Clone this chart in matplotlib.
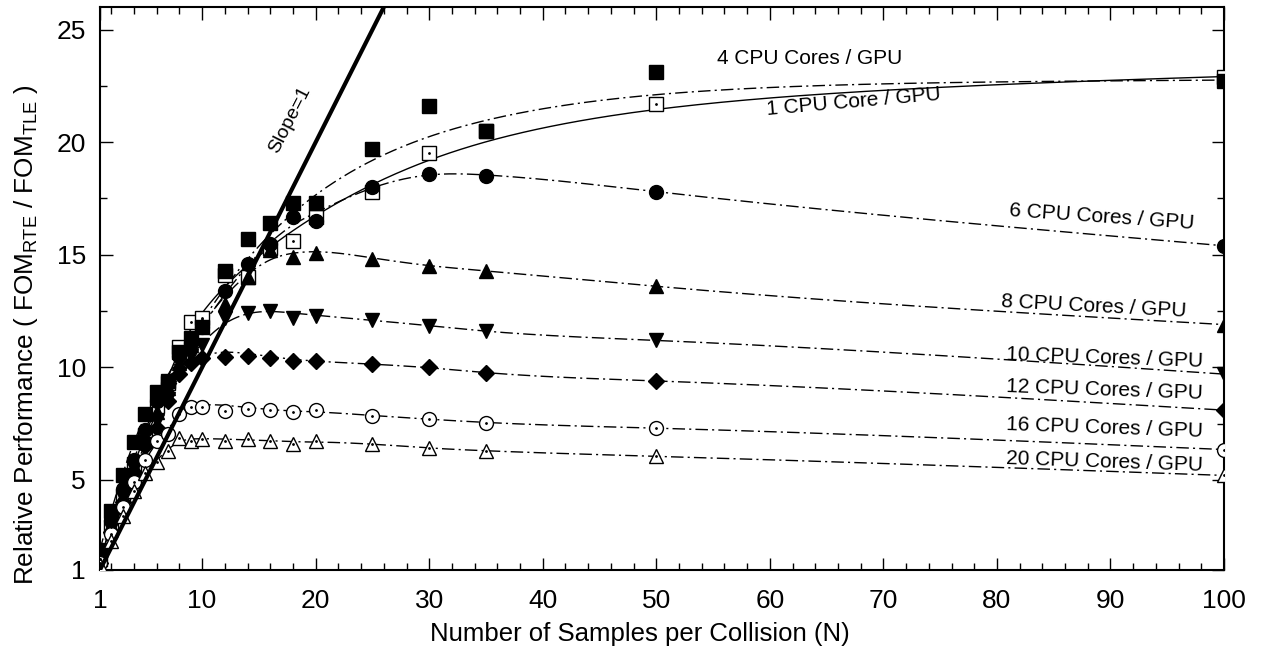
import numpy as np
import matplotlib
matplotlib.use('Agg')
import matplotlib.pyplot as plt

plt.rcParams['font.family'] = ['Liberation Sans', 'DejaVu Sans']

N = [1, 2, 3, 4, 5, 6, 7, 8, 9, 10, 12, 14, 16, 18, 20, 25, 30, 35, 50, 100]

core1 = [1.5, 2.9, 4.3, 5.7, 7.0, 8.3, 9.3, 10.9, 12.0, 12.2, 14.1, 14.0, 15.3, 15.6, 16.7, 17.8, 19.5, 20.5, 21.7, 22.9]
core4 = [1.9, 3.6, 5.2, 6.7, 7.95, 8.9, 9.4, 10.7, 11.3, 11.8, 14.3, 15.7, 16.4, 17.3, 17.3, 19.7, 21.6, 20.5, 23.1, 22.7]
core6 = [1.6, 3.2, 4.6, 5.9, 7.2, 8.5, 9.3, 10.5, 11.1, 11.8, 13.4, 14.6, 15.5, 16.7, 16.5, 18.0, 18.6, 18.5, 17.8, 15.4]
core8 = [1.5, 3.0, 4.3, 5.6, 6.8, 8.0, 9.1, 10.2, 11.0, 11.9, 12.8, 14.0, 15.2, 14.9, 15.1, 14.8, 14.5, 14.3, 13.6, 11.9]
core10 = [1.4, 2.8, 4.2, 5.5, 6.6, 7.6, 8.6, 9.7, 10.5, 11.0, 12.2, 12.4, 12.5, 12.2, 12.3, 12.1, 11.85, 11.6, 11.2, 9.7]
core12 = [1.3, 2.7, 4.0, 5.3, 6.5, 7.3, 8.5, 9.7, 10.2, 10.4, 10.45, 10.5, 10.4, 10.3, 10.3, 10.15, 10.0, 9.75, 9.4, 8.1]
core16 = [1.3, 2.6, 3.8, 4.9, 5.9, 6.75, 7.05, 7.95, 8.25, 8.25, 8.05, 8.15, 8.1, 8.0, 8.1, 7.85, 7.7, 7.55, 7.3, 6.35]
core20 = [1.2, 2.3, 3.4, 4.5, 5.3, 5.8, 6.3, 6.85, 6.75, 6.8, 6.75, 6.8, 6.75, 6.6, 6.75, 6.6, 6.4, 6.3, 6.05, 5.2]

labels = ['1 CPU Core / GPU', '4 CPU Cores / GPU', '6 CPU Cores / GPU', '8 CPU Cores / GPU',
          '10 CPU Cores / GPU', '12 CPU Cores / GPU', '16 CPU Cores / GPU', '20 CPU Cores / GPU']
label_pos = [(67.4, 21.8, 5), (63.5, 23.7, 0), (89.2, 16.7, -4), (88.5, 12.7, -3),
             (89.5, 10.4, -2), (89.5, 9.0, -2), (89.5, 7.3, -2), (89.5, 5.8, -2)]


def smooth_spline(x, y, lam, w=None, n=600):
	# weighted Reinsch smoothing spline (natural cubic)
	x = np.asarray(x, float)
	y = np.asarray(y, float)
	m = len(x)
	W = np.diag(np.ones(m) if w is None else np.asarray(w, float))
	h = np.diff(x)
	Q = np.zeros((m, m - 2))
	R = np.zeros((m - 2, m - 2))
	for j in range(1, m - 1):
		Q[j - 1, j - 1] = 1 / h[j - 1]
		Q[j, j - 1] = -1 / h[j - 1] - 1 / h[j]
		Q[j + 1, j - 1] = 1 / h[j]
		R[j - 1, j - 1] = (h[j - 1] + h[j]) / 3
		if j < m - 2:
			R[j - 1, j] = R[j, j - 1] = h[j] / 6
	K = Q @ np.linalg.solve(R, Q.T)
	g = np.linalg.solve(W + lam * K, W @ y)
	gam = np.zeros(m)
	gam[1:-1] = np.linalg.solve(R, Q.T @ g)
	xs = np.linspace(x[0], x[-1], n)
	i = np.clip(np.searchsorted(x, xs) - 1, 0, m - 2)
	hi = h[i]
	a = (x[i + 1] - xs) / hi
	b = (xs - x[i]) / hi
	ys = a * g[i] + b * g[i + 1] + ((a**3 - a) * gam[i] + (b**3 - b) * gam[i + 1]) * hi**2 / 6
	return xs, ys


# fit weights: heavier on the closely spaced low-N points and on the end point
w_low = [20 if (n <= 10 or n == 100) else 1 for n in N]

# (values, marker, filled, style, smoothing, fit in log N)
series = [
	(core1, 's', False, '-', 0.05, True),
	(core4, 's', True, 'dd', 0.15, True),
	(core6, 'o', True, 'dd', 10, False),
	(core8, '^', True, 'dd', 10, False),
	(core10, 'v', True, 'dd', 10, False),
	(core12, 'D', True, 'dd', 10, False),
	(core16, 'o', False, 'dd', 10, False),
	(core20, '^', False, 'dd', 10, False),
]

fig = plt.figure(figsize=(12.65, 6.48), dpi=100)
ax = fig.add_axes([0.079, 0.1204, 0.8886, 0.8686])

for vals, mk, filled, ls, lam, uselog in series:
	if uselog:
		u, by = smooth_spline(np.log(N), vals, lam, w_low)
		bx = np.exp(u)
	else:
		bx, by = smooth_spline(N, vals, lam, w_low)
	if ls == '-':
		ax.plot(bx, by, '-', color='k', lw=1.0, zorder=2)
	else:
		ax.plot(bx, by, color='k', lw=1.0, dashes=(9, 3, 1.5, 3), zorder=2)
	ms = 8.5 if mk == 'D' else 10
	if filled:
		ax.plot(N, vals, linestyle='none', marker=mk, ms=ms, color='k', zorder=3)
	else:
		ax.plot(N, vals, linestyle='none', marker=mk, ms=ms, mfc='white', mec='k', mew=1.0, zorder=3)
		ax.plot(N, vals, linestyle='none', marker='.', ms=2, color='k', zorder=4)

# slope = 1 reference
sx = np.array([1, 26])
ax.plot(sx, sx, color='k', lw=3, zorder=5, solid_capstyle='butt')
ax.text(17.7, 21.0, 'Slope=1', rotation=63, ha='center', va='center', fontsize=14)

for lab, (lx, ly, rot) in zip(labels, label_pos):
	ax.text(lx, ly, lab, rotation=rot, ha='center', va='center', fontsize=15)

ax.set_xlim(1, 100)
ax.set_ylim(1, 26)
ax.set_xticks([1, 10, 20, 30, 40, 50, 60, 70, 80, 90, 100])
ax.set_xticks([x for x in range(2, 100, 2) if x % 10 != 0], minor=True)
ax.set_yticks([1, 5, 10, 15, 20, 25])
ax.set_yticks([7.5, 12.5, 17.5, 22.5], minor=True)
ax.tick_params(which='both', direction='in', top=True, right=True, labelsize=19, width=1.0)
ax.tick_params(which='major', length=9)
ax.tick_params(axis='x', which='major', pad=14)
ax.tick_params(axis='y', which='major', pad=10)
ax.tick_params(which='minor', length=5)
for s in ax.spines.values():
	s.set_linewidth(1.5)

ax.set_xlabel('Number of Samples per Collision (N)', fontsize=18.5)
ax.xaxis.set_label_coords(0.48, -0.092)
ax.set_ylabel(r'Relative Performance ( FOM$_{\mathregular{RTE}}$ / FOM$_{\mathregular{TLE}}$ )', fontsize=18.8)
ax.yaxis.set_label_coords(-0.053, 0.418)

fig.savefig('out.png', dpi=100)
